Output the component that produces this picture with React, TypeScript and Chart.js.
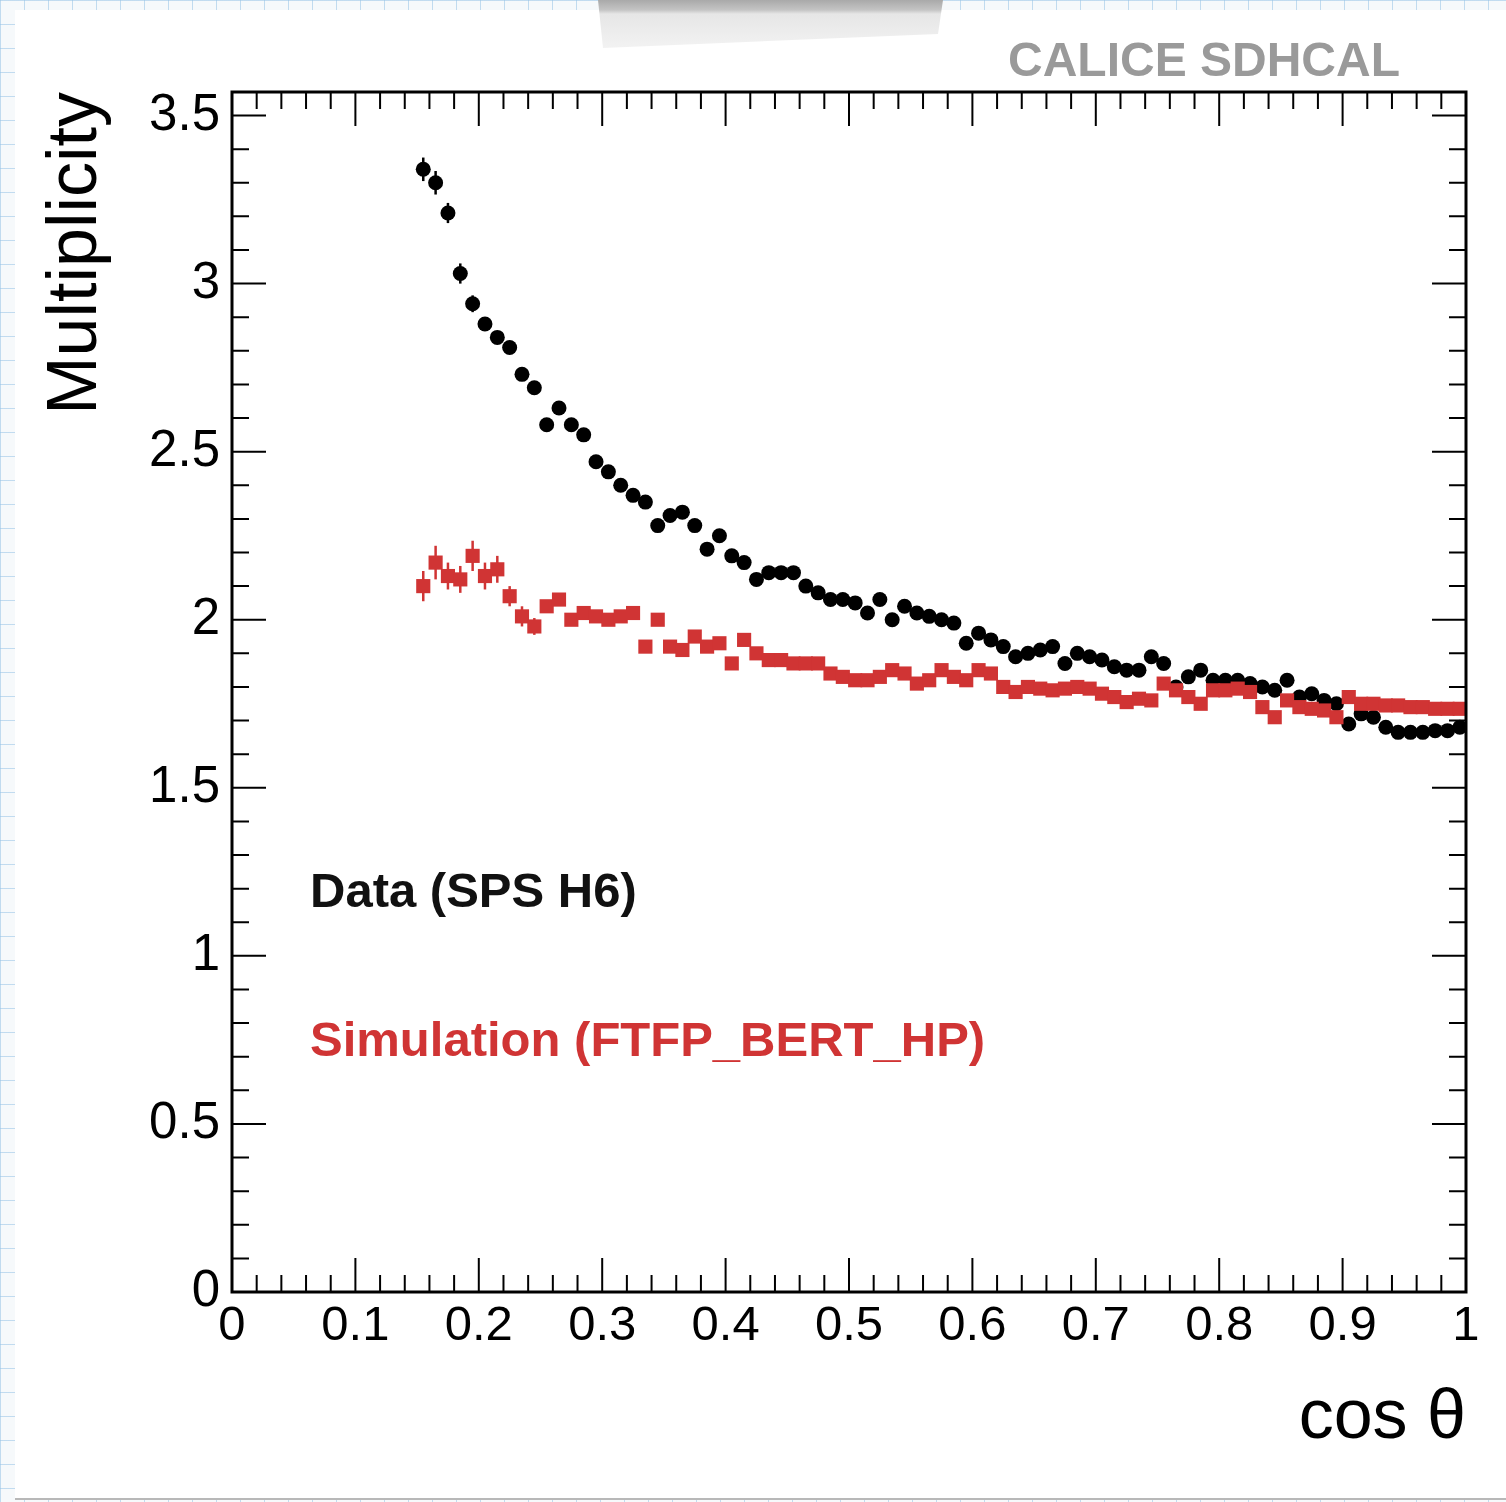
import React, { useEffect, useRef } from "react";
import { Chart, registerables } from "chart.js";

Chart.register(...registerables);

// ---- data ----
const cosTheta = [
  0.155, 0.165, 0.175, 0.185, 0.195, 0.205, 0.215, 0.225, 0.235, 0.245,
  0.255, 0.265, 0.275, 0.285, 0.295, 0.305, 0.315, 0.325, 0.335, 0.345,
  0.355, 0.365, 0.375, 0.385, 0.395, 0.405, 0.415, 0.425, 0.435, 0.445,
  0.455, 0.465, 0.475, 0.485, 0.495, 0.505, 0.515, 0.525, 0.535, 0.545,
  0.555, 0.565, 0.575, 0.585, 0.595, 0.605, 0.615, 0.625, 0.635, 0.645,
  0.655, 0.665, 0.675, 0.685, 0.695, 0.705, 0.715, 0.725, 0.735, 0.745,
  0.755, 0.765, 0.775, 0.785, 0.795, 0.805, 0.815, 0.825, 0.835, 0.845,
  0.855, 0.865, 0.875, 0.885, 0.895, 0.905, 0.915, 0.925, 0.935, 0.945,
  0.955, 0.965, 0.975, 0.985, 0.995,
];

const dataMultiplicity = [
  3.34, 3.30, 3.21, 3.03, 2.94, 2.88, 2.84, 2.81, 2.73, 2.69,
  2.58, 2.63, 2.58, 2.55, 2.47, 2.44, 2.40, 2.37, 2.35, 2.28,
  2.31, 2.32, 2.28, 2.21, 2.25, 2.19, 2.17, 2.12, 2.14, 2.14,
  2.14, 2.10, 2.08, 2.06, 2.06, 2.05, 2.02, 2.06, 2.00, 2.04,
  2.02, 2.01, 2.00, 1.99, 1.93, 1.96, 1.94, 1.92, 1.89, 1.90,
  1.91, 1.92, 1.87, 1.90, 1.89, 1.88, 1.86, 1.85, 1.85, 1.89,
  1.87, 1.80, 1.83, 1.85, 1.82, 1.82, 1.82, 1.81, 1.80, 1.79,
  1.82, 1.77, 1.78, 1.76, 1.75, 1.69, 1.72, 1.71, 1.68, 1.665,
  1.665, 1.665, 1.67, 1.67, 1.68,
];

const simMultiplicity = [
  2.10, 2.17, 2.13, 2.12, 2.19, 2.13, 2.15, 2.07, 2.01, 1.98,
  2.04, 2.06, 2.00, 2.02, 2.01, 2.00, 2.01, 2.02, 1.92, 2.00,
  1.92, 1.91, 1.95, 1.92, 1.93, 1.87, 1.94, 1.90, 1.88, 1.88,
  1.87, 1.87, 1.87, 1.84, 1.83, 1.82, 1.82, 1.83, 1.85, 1.84,
  1.81, 1.82, 1.85, 1.83, 1.82, 1.85, 1.84, 1.80, 1.785, 1.80,
  1.795, 1.79, 1.795, 1.80, 1.795, 1.78, 1.77, 1.755, 1.765, 1.76,
  1.81, 1.79, 1.77, 1.75, 1.79, 1.79, 1.795, 1.785, 1.74, 1.71,
  1.76, 1.74, 1.735, 1.73, 1.71, 1.77, 1.75, 1.75, 1.745, 1.745,
  1.74, 1.74, 1.735, 1.735, 1.735,
];

// vertical error bars (only visible on the first bins)
const dataErr = [0.035, 0.035, 0.03, 0.03, 0.025, 0.02];
const simErr = [0.045, 0.05, 0.04, 0.04, 0.045, 0.04, 0.04, 0.03, 0.03, 0.025];

const xTicks = [0, 0.1, 0.2, 0.3, 0.4, 0.5, 0.6, 0.7, 0.8, 0.9, 1];
const xTickLabels = ["0", "0.1", "0.2", "0.3", "0.4", "0.5", "0.6", "0.7", "0.8", "0.9", "1"];
const yTicks = [0, 0.5, 1, 1.5, 2, 2.5, 3, 3.5];
const yTickLabels = ["0", "0.5", "1", "1.5", "2", "2.5", "3", "3.5"];

const dataLabel = "Data (SPS H6)";
const simLabel = "Simulation (FTFP_BERT_HP)";
const watermark = "CALICE SDHCAL";

const RED = "#d03434";
const FONT = "'Liberation Sans', Arial, Helvetica, sans-serif";

const errArrays = [dataErr, simErr];

const rootPlugin = {
  id: "rootStyle",
  beforeDatasetsDraw(chart: any) {
    const ctx = chart.ctx;
    const xs = chart.scales.x;
    const ys = chart.scales.y;
    chart.data.datasets.forEach((ds: any, d: number) => {
      const errs = errArrays[d] || [];
      ctx.save();
      ctx.strokeStyle = ds.backgroundColor;
      ctx.lineWidth = 2.5;
      errs.forEach((e: number, i: number) => {
        const p = ds.data[i];
        if (!p) return;
        const px = xs.getPixelForValue(p.x);
        ctx.beginPath();
        ctx.moveTo(px, ys.getPixelForValue(p.y - e));
        ctx.lineTo(px, ys.getPixelForValue(p.y + e));
        ctx.stroke();
      });
      ctx.restore();
    });
  },
  afterDraw(chart: any) {
    const ctx = chart.ctx;
    const { left, right, top, bottom } = chart.chartArea;
    const xs = chart.scales.x;
    const ys = chart.scales.y;
    ctx.save();
    ctx.strokeStyle = "#000";
    // ticks
    ctx.lineWidth = 2;
    const majorLen = 34;
    const minorLen = 17;
    for (let i = 0; i <= 50; i++) {
      const px = xs.getPixelForValue(i * 0.02);
      const len = i % 5 === 0 ? majorLen : minorLen;
      ctx.beginPath();
      ctx.moveTo(px, bottom);
      ctx.lineTo(px, bottom - len);
      ctx.moveTo(px, top);
      ctx.lineTo(px, top + len);
      ctx.stroke();
    }
    for (let i = 0; i <= 35; i++) {
      const py = ys.getPixelForValue(i * 0.1);
      const len = i % 5 === 0 ? majorLen : minorLen;
      ctx.beginPath();
      ctx.moveTo(left, py);
      ctx.lineTo(left + len, py);
      ctx.moveTo(right, py);
      ctx.lineTo(right - len, py);
      ctx.stroke();
    }
    // frame
    ctx.lineWidth = 3;
    ctx.strokeRect(left, top, right - left, bottom - top);

    // texts
    ctx.textBaseline = "middle";
    ctx.font = `bold 48px ${FONT}`;
    ctx.fillStyle = "#9a9a9a";
    ctx.textAlign = "right";
    ctx.fillText(watermark, right - 66, top - 29);

    ctx.textAlign = "left";
    ctx.font = `bold 49px ${FONT}`;
    ctx.fillStyle = "#111";
    ctx.fillText(dataLabel, left + 78, 893);
    ctx.fillStyle = RED;
    ctx.fillText(simLabel, left + 78, 1042);
    ctx.restore();
  },
};

export default function App() {
  const ref = useRef<HTMLCanvasElement>(null);

  useEffect(() => {
    document.body.style.margin = "0";
    const canvas = ref.current;
    if (!canvas) return;
    const chart = new Chart(canvas, {
      type: "scatter",
      data: {
        datasets: [
          {
            label: dataLabel,
            data: cosTheta.map((x, i) => ({ x, y: dataMultiplicity[i] })),
            pointStyle: "circle",
            pointRadius: 7.5,
            pointBorderWidth: 0,
            backgroundColor: "#000000",
            borderColor: "#000000",
            order: 1,
          },
          {
            label: simLabel,
            data: cosTheta.map((x, i) => ({ x, y: simMultiplicity[i] })),
            pointStyle: "rect",
            pointRadius: 10,
            pointBorderWidth: 0,
            backgroundColor: RED,
            borderColor: RED,
            order: 0,
          },
        ],
      } as any,
      options: {
        animation: false,
        responsive: false,
        devicePixelRatio: 1,
        events: [],
        layout: { padding: { left: 35, right: 40, top: 92, bottom: 41 } },
        plugins: { legend: { display: false }, tooltip: { enabled: false }, title: { display: false } },
        scales: {
          x: {
            type: "linear",
            min: 0,
            max: 1,
            afterBuildTicks: (s: any) => {
              s.ticks = xTicks.map((v) => ({ value: v }));
            },
            afterFit: (s: any) => {
              s.height = 169;
            },
            ticks: {
              autoSkip: false,
              maxRotation: 0,
              padding: 5,
              color: "#000",
              font: { family: FONT, size: 49 },
              callback: (_v: any, i: number) => xTickLabels[i],
            },
            grid: { display: false, drawTicks: false },
            border: { display: false },
            title: {
              display: true,
              text: "cos θ",
              align: "end",
              color: "#000",
              padding: 0,
              font: { family: FONT, size: 70 },
            },
          },
          y: {
            type: "linear",
            min: 0,
            max: 3.57,
            afterBuildTicks: (s: any) => {
              s.ticks = yTicks.map((v) => ({ value: v }));
            },
            afterFit: (s: any) => {
              s.width = 197;
            },
            ticks: {
              autoSkip: false,
              padding: 12,
              color: "#000",
              font: { family: FONT, size: 51 },
              callback: (_v: any, i: number) => yTickLabels[i],
            },
            grid: { display: false, drawTicks: false },
            border: { display: false },
            title: {
              display: true,
              text: "Multiplicity",
              align: "end",
              color: "#000",
              padding: 0,
              font: { family: FONT, size: 70 },
            },
          },
        },
      } as any,
      plugins: [rootPlugin],
    });
    return () => chart.destroy();
  }, []);

  const paper =
    "linear-gradient(rgba(150,195,230,0.55) 1px, transparent 1px), linear-gradient(90deg, rgba(150,195,230,0.55) 1px, transparent 1px)";

  return (
    <div
      style={{
        position: "relative",
        width: 1506,
        height: 1502,
        overflow: "hidden",
        backgroundColor: "#f6f9fb",
        backgroundImage: paper,
        backgroundSize: "24px 24px",
      }}
    >
      <div
        style={{
          position: "absolute",
          left: 15,
          top: 10,
          width: 1491,
          height: 1488,
          background: "#ffffff",
          borderBottom: "2px solid #b8b8b8",
        }}
      />
      <div
        style={{
          position: "absolute",
          left: 598,
          top: 0,
          width: 345,
          height: 50,
          background: "linear-gradient(#a9a9a9 0px, #c4c4c4 10px, #e6e6e6 14px, #f3f3f3 50px)",
          clipPath: "polygon(0px 0px, 345px 0px, 340px 34px, 5px 48px)",
        }}
      />
      <canvas
        ref={ref}
        width={1506}
        height={1502}
        style={{ position: "absolute", left: 0, top: 0, width: 1506, height: 1502 }}
      />
    </div>
  );
}
